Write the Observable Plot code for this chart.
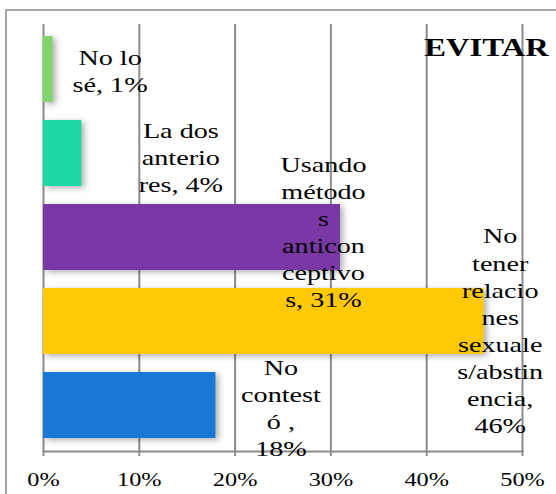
<!DOCTYPE html>
<html><head><meta charset="utf-8">
<script src="https://cdn.jsdelivr.net/npm/d3@7"></script>
<script src="https://cdn.jsdelivr.net/npm/@observablehq/plot@0.6"></script>
<style>
html,body{margin:0;padding:0;background:#fff;}
#wrap{position:relative;width:556px;height:494px;overflow:hidden;}
#border{position:absolute;left:5px;top:9px;right:-10px;bottom:-10px;border-left:2px solid #a6a6a6;border-top:2px solid #a6a6a6;pointer-events:none;}
</style></head><body><div id="wrap"><div id="border"></div></div>
<script>
// ---- data ----
const categories = ["No lo sé", "La dos anteriores", "Usando métodos anticonceptivos", "No tener relaciones sexuales/abstinencia", "No contestó"];
const values = [1, 4, 31, 46, 18];
const labels = ["No lo\nsé, 1%", "La dos\nanterio\nres, 4%", "Usando\nmétodo\ns\nanticon\nceptivo\ns, 31%", "No\ntener\nrelacio\nnes\nsexuale\ns/abstin\nencia,\n46%", "No\ncontest\nó ,\n18%"];
const xTicks = [0, 10, 20, 30, 40, 50];
const title = "EVITAR";

// ---- styles ----
const colors = ["#7fd46b", "#1dd8a2", "#7a37a6", "#ffc906", "#1878d3"];
const labelDx = [57, 99, -17, 16, 65];
const labelDy = [0, 3, -7, 8, 1];
const serif = "Liberation Serif";
const stretch = 1.28;

const rows = categories.map((c, i) => ({c, v: values[i], color: colors[i], label: labels[i]}));

const plot = Plot.plot({
  width: 556,
  height: 494,
  marginLeft: 43,
  marginRight: 34,
  marginTop: 24,
  marginBottom: 43,
  style: {background: "transparent", color: "#000"},
  x: {domain: [0, 50], ticks: xTicks, label: null},
  y: {domain: categories, paddingInner: 0.21, paddingOuter: 0.12, axis: null, label: null},
  marks: [
    Plot.gridX(xTicks, {stroke: "#8c8c8c", strokeOpacity: 1, strokeWidth: 2}),
    Plot.frame({anchor: "bottom", stroke: "#8c8c8c", strokeWidth: 2}),
    Plot.axisX({ticks: xTicks, tickFormat: d => d + "%", tickSize: 5, tickPadding: 16, stroke: "#8c8c8c", strokeWidth: 2, fontSize: 19, fill: "#000", label: null}),
    Plot.barX(rows, {x: "v", y: "c", fill: "color"}),
    ...rows.map((r, i) => Plot.text([r], {
      x: "v", y: "c", text: "label", fontSize: 22, lineHeight: 1.23,
      textAnchor: "middle", lineAnchor: "middle", fill: "#000",
      dx: labelDx[i], dy: labelDy[i]
    })),
    Plot.text([title], {frameAnchor: "top-right", text: d => d, fontSize: 25.5, fontWeight: "bold", fill: "#000", textAnchor: "middle", lineAnchor: "middle", dx: -36, dy: 23})
  ]
});

// soft shadow on bars
plot.querySelectorAll("rect").forEach(r => {
  if (r.getAttribute("fill") && r.getAttribute("fill").startsWith("#")) {
    r.parentNode.style.filter = "drop-shadow(3px 2px 3px rgba(0,0,0,0.32))";
  }
});
// serif font and horizontal stretch of the text as in the original
plot.setAttribute("font-family", serif);
plot.style.fontFamily = "'Liberation Serif', 'Times New Roman', serif";
plot.querySelectorAll("g").forEach(g => { if (g.hasAttribute("font-family")) g.setAttribute("font-family", serif); });
plot.querySelectorAll("text").forEach(t => {
  t.setAttribute("font-family", serif);
  t.style.fontFamily = "'Liberation Serif', 'Times New Roman', serif";
  const tr = t.getAttribute("transform");
  if (tr && tr.includes("translate")) t.setAttribute("transform", tr + ` scale(${stretch},1)`);
});
document.getElementById("wrap").prepend(plot);
plot.style.position = "absolute";
plot.style.left = "0";
plot.style.top = "0";
</script></body></html>
